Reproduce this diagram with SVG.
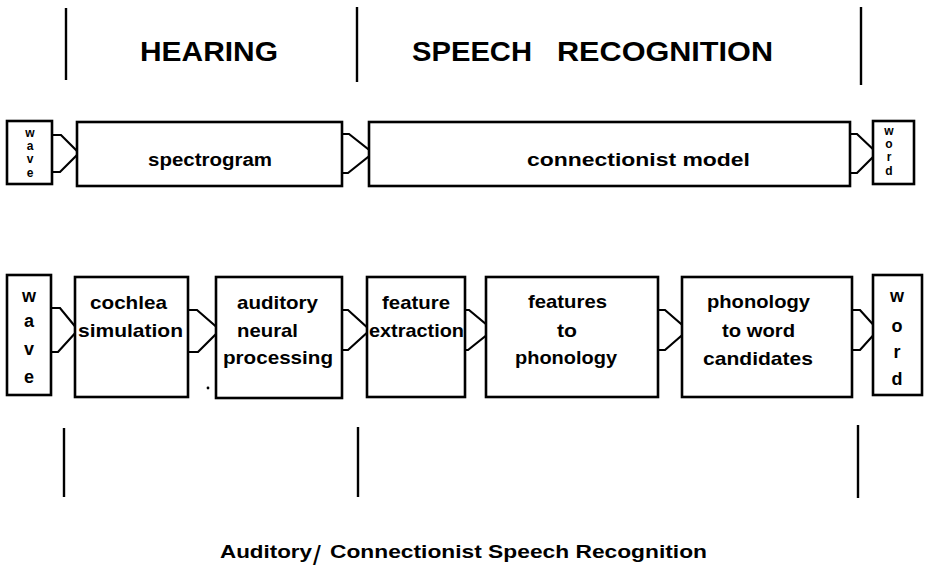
<svg xmlns="http://www.w3.org/2000/svg" width="927" height="573" viewBox="0 0 927 573">
<style>
text{font-family:"Liberation Sans",Arial,sans-serif;font-weight:bold;fill:#000}
.box{fill:#fff;stroke:#000;stroke-width:2.6}
.div{stroke:#000;stroke-width:2.4;fill:none}
.con{fill:none;stroke:#000;stroke-width:2.2;stroke-linejoin:miter}
.hd{font-size:28px}
.t{font-size:18px;text-anchor:start}
.v{font-size:12px;text-anchor:middle}
.vb{font-size:18px;text-anchor:middle}
.b{font-size:19px}
.cap{font-size:18px}
</style>
<rect width="927" height="573" fill="#fff"/>
<g id="dividers">
<line class="div" x1="66" y1="8" x2="66" y2="80"/>
<line class="div" x1="357" y1="7" x2="357" y2="82"/>
<line class="div" x1="861" y1="7" x2="861" y2="85"/>
<line class="div" x1="64" y1="428" x2="64" y2="497"/>
<line class="div" x1="358" y1="427" x2="358" y2="497"/>
<line class="div" x1="858" y1="425" x2="858" y2="498"/>
</g>
<g id="headings">
<text class="hd" x="140" y="61" textLength="138" lengthAdjust="spacingAndGlyphs">HEARING</text>
<text class="hd" x="412" y="61" textLength="120" lengthAdjust="spacingAndGlyphs">SPEECH</text>
<text class="hd" x="557" y="61" textLength="216" lengthAdjust="spacingAndGlyphs">RECOGNITION</text>
</g>
<g id="connectors">
<path class="con" d="M52,135 H61 L79,153 L60,172 H52"/>
<path class="con" d="M342,134 H349 L373,153 L348,173 H342"/>
<path class="con" d="M850,134 H857 L877,153 L857,173 H850"/>
<path class="con" d="M51,308 H60 L78,330 L58,352 H51"/>
<path class="con" d="M188,310 H197 L220,330 L198,352 H188"/>
<path class="con" d="M342,310 H348 L370,330 L348,350 H342"/>
<path class="con" d="M465,310 H469 L493,330 L468,350 H465"/>
<path class="con" d="M658,310 H665 L688,330 L665,350 H658"/>
<path class="con" d="M852,310 H860 L878,330 L860,350 H852"/>
</g>
<g id="wave-top">
<rect class="box" x="7" y="121" width="45" height="63"/>
<text class="v"><tspan x="30" y="137">w</tspan><tspan x="30" y="150">a</tspan><tspan x="30" y="163">v</tspan><tspan x="30" y="177">e</tspan></text>
</g>
<g id="spectrogram">
<rect class="box" x="77" y="122" width="265" height="64"/>
<text class="t" x="148" y="166" textLength="124" lengthAdjust="spacingAndGlyphs">spectrogram</text>
</g>
<g id="connectionist-model">
<rect class="box" x="369" y="122" width="481" height="64"/>
<text class="t" x="527" y="166" textLength="223" lengthAdjust="spacingAndGlyphs">connectionist  model</text>
</g>
<g id="word-top">
<rect class="box" x="873" y="121" width="41" height="63"/>
<text class="v"><tspan x="889" y="135">w</tspan><tspan x="889" y="148">o</tspan><tspan x="889" y="161">r</tspan><tspan x="889" y="175">d</tspan></text>
</g>
<g id="wave-bottom">
<rect class="box" x="7" y="275" width="44" height="120"/>
<text class="vb"><tspan x="29" y="302">w</tspan><tspan x="29" y="327">a</tspan><tspan x="29" y="355">v</tspan><tspan x="29" y="383">e</tspan></text>
</g>
<g id="cochlea-simulation">
<rect class="box" x="75" y="277" width="113" height="120"/>
<text class="b" x="90" y="309" textLength="77" lengthAdjust="spacingAndGlyphs">cochlea</text>
<text class="b" x="78" y="337" textLength="105" lengthAdjust="spacingAndGlyphs">simulation</text>
</g>
<g id="auditory-neural-processing">
<rect class="box" x="216" y="277" width="126" height="121"/>
<text class="b" x="237" y="309" textLength="81" lengthAdjust="spacingAndGlyphs">auditory</text>
<text class="b" x="237" y="337" textLength="61" lengthAdjust="spacingAndGlyphs">neural</text>
<text class="b" x="223" y="364" textLength="110" lengthAdjust="spacingAndGlyphs">processing</text>
</g>
<circle cx="208" cy="388" r="1.4" fill="#000"/>
<g id="feature-extraction">
<rect class="box" x="367" y="277" width="98" height="120"/>
<text class="b" x="382" y="309" textLength="68" lengthAdjust="spacingAndGlyphs">feature</text>
<text class="b" x="369" y="337" textLength="95" lengthAdjust="spacingAndGlyphs">extraction</text>
</g>
<g id="features-to-phonology">
<rect class="box" x="486" y="277" width="172" height="120"/>
<text class="b" x="528" y="308" textLength="79" lengthAdjust="spacingAndGlyphs">features</text>
<text class="b" x="557" y="337" textLength="20" lengthAdjust="spacingAndGlyphs">to</text>
<text class="b" x="515" y="364" textLength="102" lengthAdjust="spacingAndGlyphs">phonology</text>
</g>
<g id="phonology-to-word-candidates">
<rect class="box" x="682" y="277" width="170" height="120"/>
<text class="b" x="707" y="308" textLength="103" lengthAdjust="spacingAndGlyphs">phonology</text>
<text class="b" x="722" y="337" textLength="73" lengthAdjust="spacingAndGlyphs">to word</text>
<text class="b" x="703" y="365" textLength="110" lengthAdjust="spacingAndGlyphs">candidates</text>
</g>
<g id="word-bottom">
<rect class="box" x="873" y="275" width="49" height="120"/>
<text class="vb"><tspan x="897" y="302">w</tspan><tspan x="897" y="332">o</tspan><tspan x="897" y="358">r</tspan><tspan x="897" y="385">d</tspan></text>
</g>
<g id="caption">
<text class="cap" x="220" y="558"><tspan textLength="92" lengthAdjust="spacingAndGlyphs">Auditory</tspan><tspan x="313" y="565" style="font-size:28px;font-weight:normal">/</tspan><tspan x="330" y="558" textLength="377" lengthAdjust="spacingAndGlyphs">Connectionist Speech Recognition</tspan></text>
</g>
</svg>
